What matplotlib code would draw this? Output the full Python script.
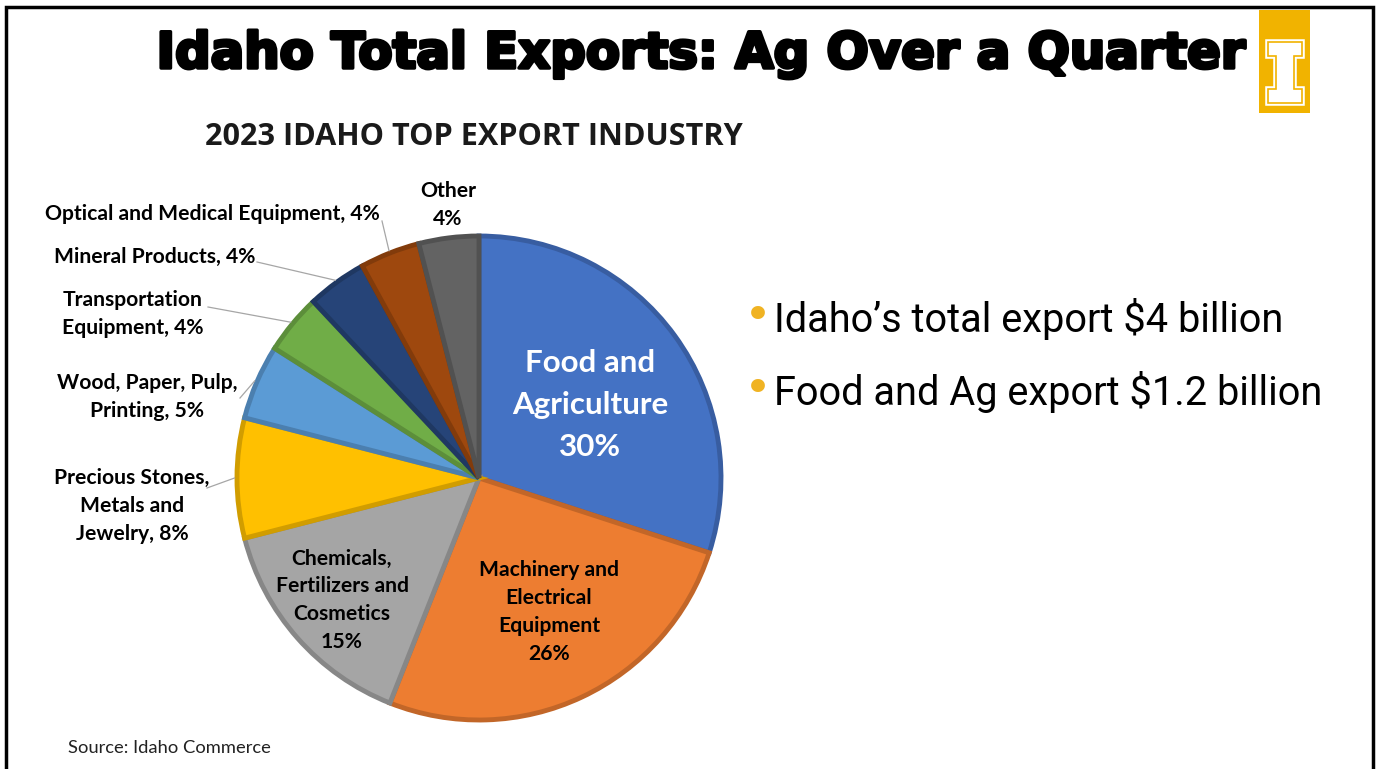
import numpy as np
import matplotlib
matplotlib.use("Agg")
import matplotlib.pyplot as plt
import matplotlib.patheffects as pe
from matplotlib.patches import Rectangle, Polygon
from matplotlib.colors import to_rgb

W, H = 1376, 769

# --- data -------------------------------------------------------------
industries = [
    "Food and\nAgriculture",
    "Machinery and\nElectrical\nEquipment",
    "Chemicals,\nFertilizers and\nCosmetics",
    "Precious Stones,\nMetals and\nJewelry",
    "Wood, Paper, Pulp,\nPrinting",
    "Transportation\nEquipment",
    "Mineral Products",
    "Optical and Medical Equipment",
    "Other",
]
shares = [30, 26, 15, 8, 5, 4, 4, 4, 4]
colors = ["#4472C4", "#ED7D31", "#A5A5A5", "#FFC000", "#5B9BD5",
          "#70AD47", "#264478", "#9E480E", "#636363"]

bullets = ["Idaho\u2019s total export $4 billion",
           "Food and Ag export $1.2 billion"]

title = "Idaho Total Exports: Ag Over a Quarter"
chart_title = "2023 IDAHO TOP EXPORT INDUSTRY"
source = "Source: Idaho Commerce"


def P(x, y):
    """pixel (top-left origin) -> data coords"""
    return x, H - y


def darker(c, f=0.82):
    r, g, b = to_rgb(c)
    return (r * f, g * f, b * f)


fig = plt.figure(figsize=(W / 100, H / 100), dpi=100)
ax = fig.add_axes([0, 0, 1, 1])

# --- pie ----------------------------------------------------------------
cx, cy = P(479, 478)
R = 242
wedges, _ = ax.pie(shares, colors=colors, startangle=90, counterclock=False,
                   center=(cx, cy), radius=R,
                   wedgeprops=dict(linewidth=3.5, joinstyle="miter"))
for w, c in zip(wedges, colors):
    w.set_edgecolor(darker(c))

ax.set_xlim(0, W)
ax.set_ylim(0, H)
ax.set_aspect("equal")
ax.axis("off")

LS = 1.48
lab_font = dict(family="Lato", fontweight="bold", fontsize=15.2)

# labels inside the large slices
inside = {0: dict(xy=(590, 405), color="white", size=22.6, ls=1.62),
          1: dict(xy=(549, 612), color="black", size=15.2, ls=LS),
          2: dict(xy=(342, 600), color="black", size=15.2, ls=LS)}
for i, spec in inside.items():
    txt = f"{industries[i]}\n{shares[i]}%"
    ax.text(*P(*spec["xy"]), txt, ha="center", va="center",
            color=spec["color"], family="Lato", fontweight="bold",
            fontsize=spec["size"], linespacing=spec["ls"])

# labels outside, with leader lines to the slice mid-angle
outside = {
    3: dict(xy=(132, 506), ha="center", start=(207, 488)),
    4: dict(xy=(147, 397), ha="center", start=(240, 398)),
    5: dict(xy=(133, 314), ha="center", start=(208, 307)),
    6: dict(xy=(255, 257), ha="right", start=(257, 262)),
    7: dict(xy=(380, 214), ha="right", start=(382, 221)),
}
for i, spec in outside.items():
    txt = f"{industries[i]}, {shares[i]}%"
    ax.text(*P(*spec["xy"]), txt, ha=spec["ha"], va="center",
            linespacing=LS, **lab_font)
    w = wedges[i]
    mid = np.deg2rad((w.theta1 + w.theta2) / 2)
    ex, ey = cx + R * 1.01 * np.cos(mid), cy + R * 1.01 * np.sin(mid)
    sx, sy = P(*spec["start"])
    ax.plot([sx, ex], [sy, ey], color="#A6A6A6", lw=0.9, zorder=3)

ax.text(*P(448, 205), f"{industries[8]}\n{shares[8]}%", ha="center",
        va="center", linespacing=LS, **lab_font)

# --- slide text -------------------------------------------------------
ax.text(*P(701, 68), title, ha="center", va="baseline", family="DejaVu Sans",
        fontweight="bold", fontsize=35.8, color="black",
        path_effects=[pe.withStroke(linewidth=2.5, foreground="black")])
ax.text(*P(205, 145), chart_title, ha="left", va="baseline", family="Open Sans",
        fontweight="bold", fontsize=22.1, color="#1a1a1a")
ax.text(*P(68, 748), source, ha="left", va="center", family="Lato",
        fontsize=13.2, color="#222222")

for k, (txt, yb) in enumerate(zip(bullets, [332, 405])):
    ax.text(*P(744, yb - 2), "\u2022", ha="left", va="baseline",
            family="DejaVu Sans", fontsize=34, color="#F0B323")
    ax.text(*P(774, yb), txt, ha="left", va="baseline", family="Roboto",
            fontsize=28.6, color="black")

# --- logo -------------------------------------------------------------
gold = "#F1B300"
ax.add_patch(Rectangle(P(1259, 113), 51, 103, facecolor=gold,
                       edgecolor="none", zorder=4))
I_shape = [(1268, 42), (1302, 42), (1302, 56), (1294, 56), (1294, 89),
           (1302, 89), (1302, 103), (1268, 103), (1268, 89), (1276, 89),
           (1276, 56), (1268, 56)]
pts = [P(x, y) for x, y in I_shape]
ax.add_patch(Polygon(pts, closed=True, facecolor="white", edgecolor="white",
                     lw=4, zorder=5))
ax.add_patch(Polygon(pts, closed=True, facecolor="white", edgecolor=gold,
                     lw=1.2, zorder=6))

# --- slide frame --------------------------------------------------------
ax.plot([6, 6, 1373, 1373], [0, H - 7, H - 7, 0], color="black", lw=2.5,
        solid_joinstyle="miter", zorder=7)

fig.savefig("out.png", dpi=100, facecolor="white")
